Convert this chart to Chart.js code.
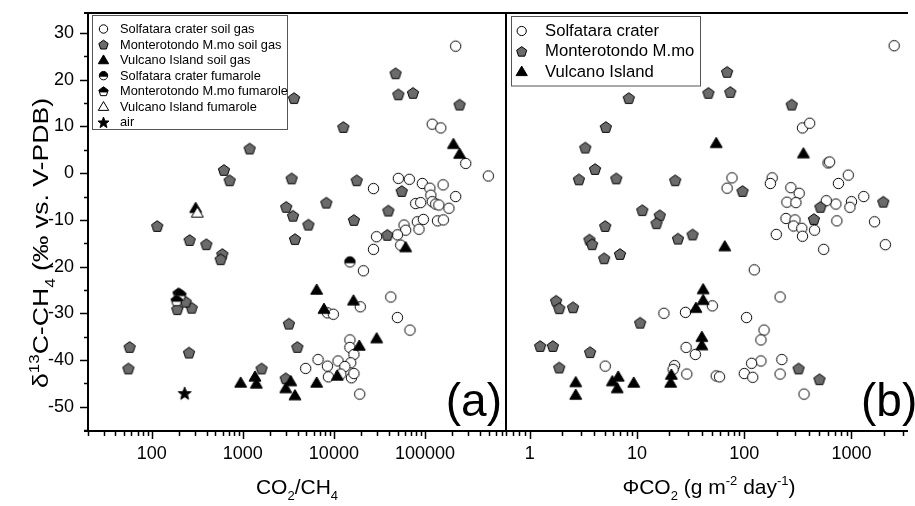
<!DOCTYPE html>
<html>
<head>
<meta charset="utf-8">
<script src="https://cdn.jsdelivr.net/npm/chart.js@4.4.1/dist/chart.umd.min.js"></script>
<style>
  html, body { margin: 0; padding: 0; background: #fff; }
  #wrap { position: relative; width: 915px; height: 506px; overflow: hidden; }
  #wrap canvas { position: absolute; left: 0; top: 0; }
</style>
</head>
<body>
<div id="wrap">
  <canvas id="chartA" width="915" height="506"></canvas>
  <canvas id="chartB" width="915" height="506"></canvas>
</div>
<script>
// ---- panel (a): CO2/CH4 ratio vs d13C-CH4 ----
const solfSoilRatio = [217000, 120000, 149000, 280000, 496000, 27200, 51000, 67400, 93600, 113000,
  158000, 116000, 217000, 79000, 89700, 120000, 131000, 142000, 183000, 58900,
  82400, 95900, 137000, 159000, 85900, 61400, 29400, 49800, 27200, 54100,
  21100, 42100, 19500, 8490, 9870, 49800, 68400, 15000, 15000, 16600,
  6700, 11100, 15300, 4900, 8490, 13200, 8710, 11900, 15600, 16600, 19200];
const solfSoilD13C = [27.2, 10.5, 9.7, 2.1, -0.6, -3.3, -1.1, -1.3, -2.2, -3.2,
  -2.5, -4.7, -5.0, -6.5, -6.3, -6.1, -6.6, -6.8, -7.5, -11.1,
  -10.4, -9.9, -10.2, -10.0, -12.0, -12.2, -13.6, -13.2, -16.3, -15.4,
  -20.9, -26.5, -28.6, -29.9, -30.2, -30.9, -33.6, -35.7, -37.3, -38.8,
  -39.9, -40.2, -40.6, -41.8, -41.3, -41.4, -43.6, -43.0, -43.8, -42.9, -47.3];

const monteSoilRatio = [47600, 51000, 73800, 240000, 3650, 12700, 1190, 622, 718, 3440,
  17800, 55500, 8260, 3000, 3560, 5250, 16600, 39600, 38600, 115,
  261, 398, 3740, 597, 572, 3210, 3970, 1610, 2960, 57.3,
  55.5, 257, 191, 275, 236];
const monteSoilD13C = [21.4, 16.9, 17.2, 14.7, 16.1, 9.9, 5.3, 0.7, -1.5, -1.1,
  -1.5, -3.8, -6.3, -7.2, -9.1, -11.0, -10.0, -8.0, -13.2, -11.3,
  -14.3, -15.2, -14.1, -17.3, -18.4, -32.2, -37.2, -41.8, -43.9, -37.2,
  -41.8, -38.4, -29.1, -28.8, -27.5];

const vulcSoilRatio = [205000, 240000, 304, 61400, 6470, 7780, 16400, 29500, 19000, 948,
  1360, 1410, 2960, 3360, 3740, 6470, 10900];
const vulcSoilD13C = [6.2, 4.1, -7.5, -15.9, -25.0, -29.1, -27.3, -35.4, -37.0, -44.9,
  -43.6, -45.1, -46.1, -44.6, -47.6, -44.9, -43.4];

const solfFumRatio = [15000];
const solfFumD13C = [-19.0];
const monteFumRatio = [197, 207, 188];
const monteFumD13C = [-25.7, -26.0, -27.2];
const vulcFumRatio = [317];
const vulcFumD13C = [-8.5];
const airRatio = [230];
const airD13C = [-47.1];

// ---- panel (b): CO2 flux vs d13C-CH4 ----
const solfFlux = [2500, 349, 407, 604, 625, 76.8, 69.2, 182, 175, 272,
  325, 933, 755, 1300, 1000, 967, 715, 582, 250, 303,
  245, 297, 288, 344, 349, 452, 730, 1640, 199, 550,
  2070, 124, 216, 105, 50.4, 28.3, 17.8, 153, 143, 28.7,
  35.0, 224, 143, 117, 5.05, 22.4, 21.7, 29.1, 54.8, 58.8,
  100, 120, 216, 361];
const solfFluxD13C = [27.3, 9.7, 10.7, 2.2, 2.4, -1.0, -3.2, -1.0, -2.2, -3.1,
  -4.3, -0.4, -2.2, -5.0, -6.1, -7.3, -6.6, -5.9, -6.2, -6.3,
  -9.7, -10.0, -11.3, -11.8, -13.5, -12.2, -10.2, -10.4, -13.1, -16.3,
  -15.3, -20.7, -26.5, -30.9, -28.4, -29.8, -30.0, -33.6, -35.7, -37.3,
  -38.8, -39.9, -40.2, -40.7, -41.3, -41.2, -42.0, -43.0, -43.4, -43.6,
  -42.9, -43.7, -43.0, -47.3];

const monteFlux = [69.2, 46.3, 74.1, 277, 8.38, 5.12, 3.29, 4.06, 2.87, 6.41,
  22.7, 96.3, 513, 446, 1980, 11.2, 16.3, 15.2, 5.05, 24.1,
  33.0, 3.6, 3.81, 4.94, 6.93, 1.76, 1.88, 2.53, 10.7, 1.25,
  1.64, 3.65, 1.88, 321, 503];
const monteFluxD13C = [21.7, 17.2, 17.4, 14.7, 16.1, 9.9, 5.5, 0.9, -1.3, -1.1,
  -1.5, -3.8, -7.2, -9.8, -6.1, -7.9, -9.0, -10.7, -11.3, -14.0,
  -13.1, -14.2, -15.2, -18.2, -17.3, -27.3, -28.9, -28.7, -32.0, -37.0,
  -37.0, -38.3, -41.6, -41.8, -44.1];

const vulcFlux = [54.8, 356, 65.8, 41.4, 41.4, 35.4, 40.2, 40.2, 2.68, 2.68,
  5.89, 6.68, 6.54, 9.31, 20.9, 20.6];
const vulcFluxD13C = [6.4, 4.2, -15.7, -24.9, -27.2, -28.9, -35.1, -36.9, -44.8, -47.5,
  -44.6, -43.6, -46.1, -44.9, -43.2, -44.9];

// ticks and labels
const ratioTicks = [100, 1000, 10000, 100000];
const fluxTicks = [1, 10, 100, 1000];
const d13cTicks = [-50, -40, -30, -20, -10, 0, 10, 20, 30];
const legendA = ['Solfatara crater soil gas', 'Monterotondo M.mo soil gas', 'Vulcano Island soil gas',
  'Solfatara crater fumarole', 'Monterotondo M.mo fumarole', 'Vulcano Island fumarole', 'air'];
const legendB = ['Solfatara crater', 'Monterotondo M.mo', 'Vulcano Island'];

const FONT = '"Liberation Sans", Arial, Helvetica, sans-serif';
const GREY = '#6b6b6b';
const Y_MIN = -55.2, Y_MAX = 34.3;

function pts(xs, ys) {
  return xs.map((x, i) => ({ x: x, y: ys[i] }));
}

// marker shapes
function shapePath(ctx, shape, cx, cy, s) {
  ctx.beginPath();
  if (shape === 'circle') {
    ctx.arc(cx, cy, s, 0, Math.PI * 2);
  } else if (shape === 'pentagon') {
    for (let k = 0; k < 5; k++) {
      const a = -Math.PI / 2 + k * 2 * Math.PI / 5;
      const px = cx + s * Math.cos(a), py = cy + s * Math.sin(a) + s * 0.1;
      k === 0 ? ctx.moveTo(px, py) : ctx.lineTo(px, py);
    }
  } else if (shape === 'triangle') {
    ctx.moveTo(cx, cy - s);
    ctx.lineTo(cx + s * 1.0, cy + s * 0.7);
    ctx.lineTo(cx - s * 1.0, cy + s * 0.7);
  } else if (shape === 'star') {
    for (let k = 0; k < 10; k++) {
      const r = k % 2 === 0 ? s : s * 0.42;
      const a = -Math.PI / 2 + k * Math.PI / 5;
      const px = cx + r * Math.cos(a), py = cy + r * Math.sin(a) + s * 0.1;
      k === 0 ? ctx.moveTo(px, py) : ctx.lineTo(px, py);
    }
  }
  ctx.closePath();
}

function drawMarker(ctx, kind, cx, cy, s) {
  const shape = {circleOpen: 'circle', circleHalf: 'circle', pentagon: 'pentagon', pentagonHalf: 'pentagon',
    triangle: 'triangle', triangleOpen: 'triangle', star: 'star'}[kind];
  ctx.save();
  ctx.lineWidth = 1;
  ctx.strokeStyle = '#000';
  shapePath(ctx, shape, cx, cy, s);
  ctx.fillStyle = kind === 'pentagon' ? GREY : (kind === 'triangle' || kind === 'star') ? '#000' : '#fff';
  ctx.fill();
  if (kind === 'circleHalf' || kind === 'pentagonHalf') {
    ctx.save();
    shapePath(ctx, shape, cx, cy, s);
    ctx.clip();
    ctx.fillStyle = '#000';
    ctx.fillRect(cx - s - 2, cy - s - 2, 2 * s + 4, s + 2 + s * 0.25);
    ctx.restore();
    shapePath(ctx, shape, cx, cy, s);
  }
  ctx.stroke();
  ctx.restore();
}

function makeMarker(kind, s) {
  const c = document.createElement('canvas');
  const n = Math.ceil(2 * s + 4);
  c.width = n; c.height = n;
  drawMarker(c.getContext('2d'), kind, n / 2, n / 2, s);
  return c;
}

const SIZES = {circleOpen: 5.2, circleHalf: 5.2, pentagon: 5.9, pentagonHalf: 5.9, triangle: 6.0, triangleOpen: 6.0, star: 6.8};
const markers = {};
Object.keys(SIZES).forEach(k => markers[k] = makeMarker(k, SIZES[k]));

// text with sub/superscripts, centred on x; optional target length
function drawRich(ctx, parts, x, y, fs, targetLen) {
  const small = Math.round(fs * 0.62);
  let w = 0;
  const ws = parts.map(p => {
    ctx.font = (p.sub || p.sup ? small : fs) + 'px ' + FONT;
    const m = ctx.measureText(p.t).width;
    w += m;
    return m;
  });
  ctx.save();
  ctx.translate(x, y);
  if (targetLen) ctx.scale(targetLen / w, 1);
  let cx = -w / 2;
  ctx.textAlign = 'left';
  ctx.textBaseline = 'alphabetic';
  parts.forEach((p, i) => {
    ctx.font = (p.sub || p.sup ? small : fs) + 'px ' + FONT;
    const dy = p.sub ? fs * 0.3 : p.sup ? -fs * 0.42 : 0;
    ctx.fillText(p.t, cx, dy);
    cx += ws[i];
  });
  ctx.restore();
}

function drawLogTicks(ctx, scale, area) {
  ctx.lineWidth = 1.5;
  ctx.beginPath();
  for (let d = 0.1; d <= 1e7; d *= 10) {
    for (let m = 1; m <= 9; m++) {
      const v = m * d;
      if (v < scale.min * 0.999 || v > scale.max * 1.001) continue;
      const px = Math.round(scale.getPixelForValue(v)) + 0.5;
      const len = m === 1 ? 8 : 5;
      ctx.moveTo(px, area.bottom);
      ctx.lineTo(px, area.bottom + len);
    }
  }
  ctx.stroke();
}

function drawFrame(ctx, area, rightSide) {
  ctx.lineWidth = 2;
  ctx.strokeStyle = '#000';
  ctx.beginPath();
  ctx.moveTo(area.left - 4, area.top);
  ctx.lineTo(area.right, area.top);
  if (rightSide) {
    ctx.moveTo(area.right, area.top);
    ctx.lineTo(area.right, area.bottom);
  }
  ctx.moveTo(area.right, area.bottom);
  ctx.lineTo(area.left - 4, area.bottom);
  ctx.moveTo(area.left, area.bottom);
  ctx.lineTo(area.left, area.top);
  ctx.stroke();
}

const decoA = {
  id: 'decoA',
  afterDraw(chart) {
    const ctx = chart.ctx, area = chart.chartArea;
    const xs = chart.scales.x, ys = chart.scales.y;
    ctx.save();
    drawFrame(ctx, area, true);
    ctx.strokeStyle = '#000';
    drawLogTicks(ctx, xs, area);
    // y ticks, major every 10, minor every 5
    ctx.lineWidth = 1.5;
    ctx.beginPath();
    for (let v = -55; v <= 30; v += 5) {
      const py = Math.round(ys.getPixelForValue(v)) + 0.5;
      const len = v % 10 === 0 ? 8 : 4;
      ctx.moveTo(area.left, py);
      ctx.lineTo(area.left - len, py);
    }
    ctx.stroke();

    // legend box
    ctx.lineWidth = 1;
    ctx.strokeStyle = '#555';
    ctx.strokeRect(92.5, 15.5, 195, 114);
    const kinds = ['circleOpen', 'pentagon', 'triangle', 'circleHalf', 'pentagonHalf', 'triangleOpen', 'star'];
    const lsz = {circleOpen: 4.2, pentagon: 4.9, triangle: 5.2, circleHalf: 4.2, pentagonHalf: 4.9, triangleOpen: 5.2, star: 5.8};
    ctx.textAlign = 'left';
    ctx.textBaseline = 'middle';
    legendA.forEach((lab, i) => {
      const y = 29 + i * 15.55;
      drawMarker(ctx, kinds[i], 103.5, y, lsz[kinds[i]]);
      ctx.fillStyle = '#000';
      ctx.font = '12.8px ' + FONT;
      ctx.fillText(lab, 120, y + 0.5);
    });

    // panel label
    ctx.fillStyle = '#000';
    ctx.font = '46px ' + FONT;
    ctx.textAlign = 'right';
    ctx.textBaseline = 'alphabetic';
    ctx.fillText('(a)', area.right - 4, 416);

    // axis titles
    drawRich(ctx, [{t: 'CO'}, {t: '2', sub: true}, {t: '/CH'}, {t: '4', sub: true}], (area.left + area.right) / 2, 494, 21);
    ctx.translate(48, 243);
    ctx.rotate(-Math.PI / 2);
    drawRich(ctx, [{t: '\u03b4'}, {t: '13', sup: true}, {t: 'C-CH'}, {t: '4', sub: true}, {t: ' (\u2030 vs. V-PDB)'}], 0, 0, 22, 290);
    ctx.restore();
  }
};

const decoB = {
  id: 'decoB',
  afterDraw(chart) {
    const ctx = chart.ctx, area = chart.chartArea;
    const xs = chart.scales.x;
    ctx.save();
    drawFrame(ctx, area, false);
    ctx.strokeStyle = '#000';
    drawLogTicks(ctx, xs, area);

    ctx.lineWidth = 1;
    ctx.strokeStyle = '#555';
    ctx.strokeRect(511.5, 16.5, 189, 69.5);
    const kinds = ['circleOpen', 'pentagon', 'triangle'];
    const lsz = {circleOpen: 4.6, pentagon: 5.3, triangle: 5.6};
    ctx.textAlign = 'left';
    ctx.textBaseline = 'middle';
    legendB.forEach((lab, i) => {
      const y = 31 + i * 20.35;
      drawMarker(ctx, kinds[i], 521.7, y, lsz[kinds[i]]);
      ctx.fillStyle = '#000';
      ctx.font = '16.7px ' + FONT;
      ctx.fillText(lab, 545, y + 0.5);
    });

    ctx.fillStyle = '#000';
    ctx.font = '46px ' + FONT;
    ctx.textAlign = 'left';
    ctx.textBaseline = 'alphabetic';
    ctx.fillText('(b)', 861, 416);

    drawRich(ctx, [{t: '\u03a6CO'}, {t: '2', sub: true}, {t: ' (g m'}, {t: '-2', sup: true}, {t: ' day'}, {t: '-1', sup: true}, {t: ')'}],
      709, 494, 21);
    ctx.restore();
  }
};

function xAxis(min, max, tickVals, padding) {
  return {
    type: 'logarithmic',
    min: min,
    max: max,
    grid: { display: false, drawTicks: false },
    border: { display: false },
    ticks: {
      color: '#000',
      font: { family: FONT, size: 18 },
      padding: padding,
      autoSkip: false,
      maxRotation: 0,
      callback: v => String(v)
    },
    afterBuildTicks: axis => { axis.ticks = tickVals.map(v => ({ value: v, major: true })); },
    afterFit: axis => { axis.height = 75; axis.paddingLeft = 0; axis.paddingRight = 0; }
  };
}

function dataset(label, xs, ys, kind, order) {
  return {
    label: label,
    data: pts(xs, ys),
    pointStyle: markers[kind],
    pointRadius: 6,
    pointHoverRadius: 6,
    order: order
  };
}

const commonPlugins = { legend: { display: false }, tooltip: { enabled: false } };

new Chart(document.getElementById('chartA'), {
  type: 'scatter',
  data: {
    datasets: [
      dataset(legendA[6], airRatio, airD13C, 'star', 0),
      dataset(legendA[3], solfFumRatio, solfFumD13C, 'circleHalf', 1),
      dataset(legendA[4], monteFumRatio, monteFumD13C, 'pentagonHalf', 2),
      dataset(legendA[5], vulcFumRatio, vulcFumD13C, 'triangleOpen', 3),
      dataset(legendA[2], vulcSoilRatio, vulcSoilD13C, 'triangle', 4),
      dataset(legendA[1], monteSoilRatio, monteSoilD13C, 'pentagon', 5),
      dataset(legendA[0], solfSoilRatio, solfSoilD13C, 'circleOpen', 6)
    ]
  },
  options: {
    responsive: false,
    animation: false,
    layout: { padding: { left: 0, right: 915 - 506, top: 13, bottom: 0 } },
    scales: {
      x: xAxis(20, 775000, ratioTicks, 12),
      y: {
        type: 'linear',
        min: Y_MIN,
        max: Y_MAX,
        grid: { display: false, drawTicks: false },
        border: { display: false },
        ticks: { color: '#000', font: { family: FONT, size: 18 }, padding: 14 },
        afterBuildTicks: axis => { axis.ticks = d13cTicks.map(v => ({ value: v })); },
        afterFit: axis => { axis.width = 88; axis.paddingTop = 0; axis.paddingBottom = 0; }
      }
    },
    plugins: commonPlugins
  },
  plugins: [decoA]
});

new Chart(document.getElementById('chartB'), {
  type: 'scatter',
  data: {
    datasets: [
      dataset(legendB[2], vulcFlux, vulcFluxD13C, 'triangle', 0),
      dataset(legendB[1], monteFlux, monteFluxD13C, 'pentagon', 1),
      dataset(legendB[0], solfFlux, solfFluxD13C, 'circleOpen', 2)
    ]
  },
  options: {
    responsive: false,
    animation: false,
    clip: false,
    layout: { padding: { left: 506, right: 0, top: 13, bottom: 0 } },
    scales: {
      x: xAxis(0.6, 3365, fluxTicks, 12),
      y: { type: 'linear', display: false, min: Y_MIN, max: Y_MAX }
    },
    plugins: commonPlugins
  },
  plugins: [decoB]
});
</script>
</body>
</html>
